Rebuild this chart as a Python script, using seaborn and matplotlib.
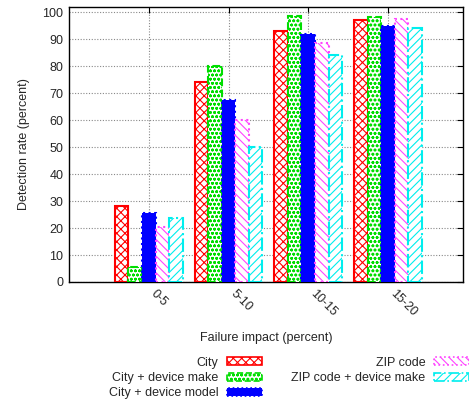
import matplotlib
matplotlib.use("Agg")
import matplotlib.pyplot as plt
from matplotlib.patches import Patch
import pandas as pd
import seaborn as sns

# Failure-impact buckets and detection rates per location granularity
impact = ["0-5", "5-10", "10-15", "15-20"]
methods = ["City", "City + device make", "City + device model",
           "ZIP code", "ZIP code + device make"]
city = [28, 74, 93, 97]
city_make = [5.5, 80, 98.5, 98]
city_model = [25.7, 67.5, 92, 95]
zip_code = [20.5, 60, 88.5, 97.5]
zip_make = [23.6, 50, 84, 94]
yticks = list(range(0, 101, 10))

series = [city, city_make, city_model, zip_code, zip_make]
df = pd.DataFrame({
    "impact": [b for _ in methods for b in impact],
    "method": [m for m in methods for _ in impact],
    "rate": [v for s in series for v in s],
})

colors = ["#ff0000", "#00dd00", "#0000ff", "#ff44ff", "#00eeee"]
hatches = ["xxxx", "oooo", None, "\\\\\\\\", "////"]
lstyles = ["-", "--", ":", ":", "-."]

sns.set_style("white")
plt.rcParams["font.family"] = ["Liberation Sans", "DejaVu Sans"]
plt.rcParams["hatch.linewidth"] = 0.8

fig = plt.figure(figsize=(4.69, 4.04), dpi=100)
ax = fig.add_axes([69 / 469, 1 - 282 / 404, (463 - 69) / 469, (282 - 6.7) / 404])

sns.barplot(data=df, x="impact", y="rate", hue="method", order=impact,
            hue_order=methods, width=0.85, dodge=True, legend=False,
            errorbar=None, ax=ax, zorder=3)

for cont, c, h, ls in zip(ax.containers, colors, hatches, lstyles):
    for bar in cont:
        if h is None:
            bar.set_facecolor(c)
        else:
            bar.set_facecolor("white")
            bar.set_hatch(h)
        bar.set_edgecolor(c)
        bar.set_linewidth(1.5)
        bar.set_linestyle(ls)

ax.set_xlim(-1, 3.94)
ax.set_ylim(0, 102)
ax.set_yticks(yticks)
ax.set_yticklabels([str(t) for t in yticks], fontsize=9)
ax.set_xticks(range(len(impact)))
ax.set_xticklabels(impact, rotation=-45, ha="left", va="top",
                   rotation_mode="default", fontsize=9)
ax.tick_params(axis="both", direction="in", length=4, width=0.8,
               top=True, right=True, pad=4, color="black")
ax.grid(True, color="#888888", linestyle=(0, (1, 1.5)), linewidth=0.8, zorder=0)
ax.set_axisbelow(True)
for sp in ax.spines.values():
    sp.set_color("black")
    sp.set_linewidth(1.0)

ax.set_xlabel("Failure impact (percent)", fontsize=9, labelpad=10)
ax.set_ylabel("Detection rate (percent)", fontsize=9, labelpad=9)

# Gnuplot-style key: label text right-justified before each swatch
key_pos = [(262, 362.7), (262, 378), (262, 393.3), (469, 362.7), (469, 378)]
for m, c, h, ls, (px, py) in zip(methods, colors, hatches, lstyles, key_pos):
    handle = Patch(facecolor=c if h is None else "white", edgecolor=c,
                   hatch=h, linewidth=1.2, linestyle=ls, label=m)
    fig.legend(handles=[handle], loc="center right",
               bbox_to_anchor=(px / 469, 1 - py / 404),
               frameon=False, markerfirst=False, fontsize=9,
               handlelength=2.8, handleheight=0.6, handletextpad=0.7,
               borderpad=0, borderaxespad=0)

fig.savefig("out.png", dpi=100)
